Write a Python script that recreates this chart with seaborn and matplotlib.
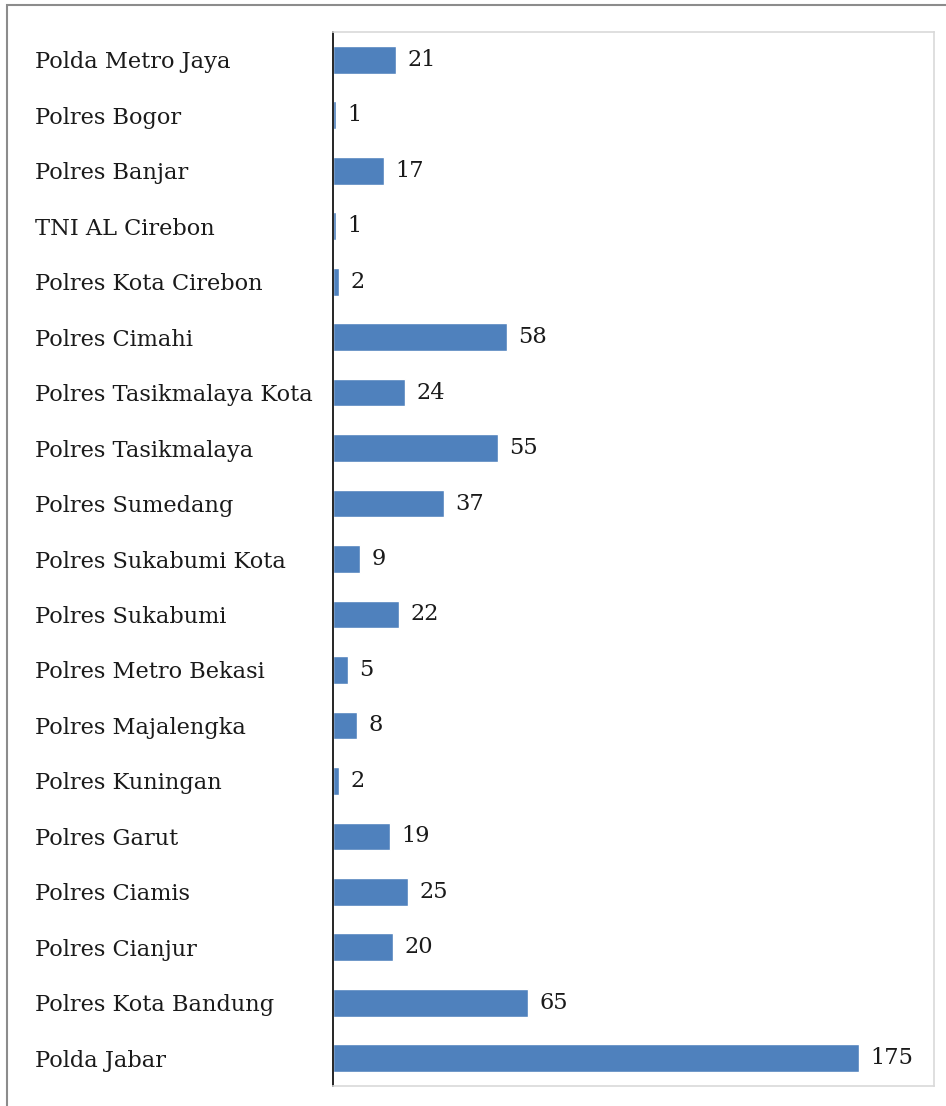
import pandas as pd
import numpy as np
import matplotlib.pyplot as plt
import matplotlib.patches as patches
import seaborn as sns

# Data
units = ["Polda Metro Jaya", "Polres Bogor", "Polres Banjar", "TNI AL Cirebon",
         "Polres Kota Cirebon", "Polres Cimahi", "Polres Tasikmalaya Kota",
         "Polres Tasikmalaya", "Polres Sumedang", "Polres Sukabumi Kota",
         "Polres Sukabumi", "Polres Metro Bekasi", "Polres Majalengka",
         "Polres Kuningan", "Polres Garut", "Polres Ciamis", "Polres Cianjur",
         "Polres Kota Bandung", "Polda Jabar"]
counts = [21, 1, 17, 1, 2, 58, 24, 55, 37, 9, 22, 5, 8, 2, 19, 25, 20, 65, 175]

df = pd.DataFrame({"Unit": units, "Jumlah": counts})

sns.set_style("white")
plt.rcParams['font.family'] = ['DejaVu Serif']

W, H = 946, 1106
fig = plt.figure(figsize=(W / 100, H / 100), dpi=100)
ax = fig.add_axes([333 / W, 1 - 1086 / H, (934 - 333) / W, (1086 - 32) / H])

sns.barplot(data=df, x="Jumlah", y="Unit", orient="h", color="#4F81BD",
            saturation=1, width=0.5, ax=ax)

ax.bar_label(ax.containers[0], padding=8, fontsize=16.2, color="#1a1a1a")

ax.set_xlim(0, 200)
ax.set_ylim(18.5, -0.5)
ax.set_xlabel("")
ax.set_ylabel("")
ax.set_xticks([])
ax.tick_params(axis="y", length=0, pad=298 * 72 / 100, labelsize=16.2,
               labelcolor="#1a1a1a")
for lbl in ax.get_yticklabels():
    lbl.set_horizontalalignment("left")

for side in ["top", "right", "bottom"]:
    ax.spines[side].set_color("#d9d9d9")
    ax.spines[side].set_linewidth(1.2)
ax.spines["left"].set_color("black")
ax.spines["left"].set_linewidth(1.2)

# outer frame
frame = patches.Rectangle((7 / W, -0.1), 2, 1 - 5 / H + 0.1, transform=fig.transFigure,
                          fill=False, edgecolor="#8c8c8c", linewidth=1.5)
fig.patches.append(frame)

fig.savefig("out.png", dpi=100)
